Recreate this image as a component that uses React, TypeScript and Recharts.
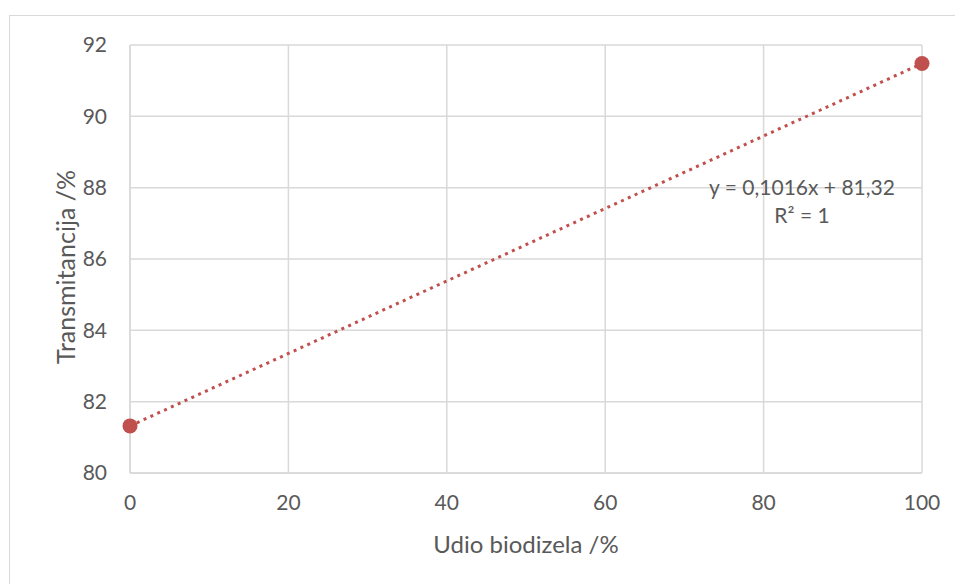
import {
  CartesianGrid,
  ComposedChart,
  Line,
  Scatter,
  XAxis,
  YAxis,
} from "recharts";

// Udio biodizela (%) vs. transmitancija (%)
const BLEND = [0, 100];
const TRANSMITTANCE = [81.32, 91.48];

// Linear trendline end points (as shown by the dotted line)
const TREND_X = [0, 100];
const TREND_Y = [81.32, 91.48];

const X_TICKS = [0, 20, 40, 60, 80, 100];
const Y_TICKS = [80, 82, 84, 86, 88, 90, 92];

const EQUATION = "y = 0,1016x + 81,32";
const R_SQUARED = "R² = 1";

const RED = "#c0504d";
const GRID = "#d9d9d9";
const TEXT = "#595959";
const FONT = "Lato, 'Open Sans', sans-serif";

const points = BLEND.map((x, i) => ({ x, y: TRANSMITTANCE[i] }));
const trend = TREND_X.map((x, i) => ({ x, t: TREND_Y[i] }));

export default function App() {
  return (
    <div
      style={{
        position: "absolute",
        left: 0,
        top: 0,
        width: 955,
        height: 584,
        overflow: "hidden",
        background: "#fff",
        fontFamily: FONT,
      }}
    >
      {/* chart frame, runs off the right and bottom edges */}
      <div
        style={{
          position: "absolute",
          left: 9,
          top: 15,
          width: 1000,
          height: 1000,
          border: `1.5px solid ${GRID}`,
        }}
      />
      <div style={{ position: "absolute", left: 0, top: 0 }}>
        <ComposedChart
          width={955}
          height={584}
          data={trend}
          margin={{ top: 45, right: 33, left: 70, bottom: 71 }}
        >
          <CartesianGrid stroke={GRID} strokeWidth={1.5} />
          <XAxis
            dataKey="x"
            type="number"
            domain={[0, 100]}
            ticks={X_TICKS}
            height={40}
            axisLine={{ stroke: GRID, strokeWidth: 1.5 }}
            tickLine={false}
            tickMargin={16}
            tick={{ fill: TEXT, fontSize: 21, fontFamily: FONT }}
          />
          <YAxis
            type="number"
            domain={[80, 92]}
            ticks={Y_TICKS}
            width={60}
            axisLine={{ stroke: GRID, strokeWidth: 1.5 }}
            tickLine={false}
            tickMargin={17}
            tick={{ fill: TEXT, fontSize: 21, fontFamily: FONT }}
          />
          <Line
            dataKey="t"
            stroke={RED}
            strokeWidth={3}
            strokeDasharray="3 4.5"
            dot={false}
            activeDot={false}
            isAnimationActive={false}
          />
          <Scatter
            data={points}
            dataKey="y"
            fill={RED}
            shape={(p: any) => <circle cx={p.cx} cy={p.cy} r={7.5} fill={RED} />}
            isAnimationActive={false}
          />
        </ComposedChart>
      </div>

      {/* trendline label */}
      <div
        style={{
          position: "absolute",
          left: 702,
          top: 173,
          width: 200,
          textAlign: "center",
          color: TEXT,
          fontSize: 21,
          lineHeight: "28px",
        }}
      >
        <div>{EQUATION}</div>
        <div>{R_SQUARED}</div>
      </div>

      {/* axis titles */}
      <div
        style={{
          position: "absolute",
          left: 326,
          top: 529,
          width: 400,
          textAlign: "center",
          color: TEXT,
          fontSize: 24,
        }}
      >
        Udio biodizela /%
      </div>
      <div
        style={{
          position: "absolute",
          left: 65,
          top: 267,
          transform: "translate(-50%, -50%) rotate(-90deg)",
          whiteSpace: "nowrap",
          color: TEXT,
          fontSize: 25,
        }}
      >
        Transmitancija /%
      </div>
    </div>
  );
}
